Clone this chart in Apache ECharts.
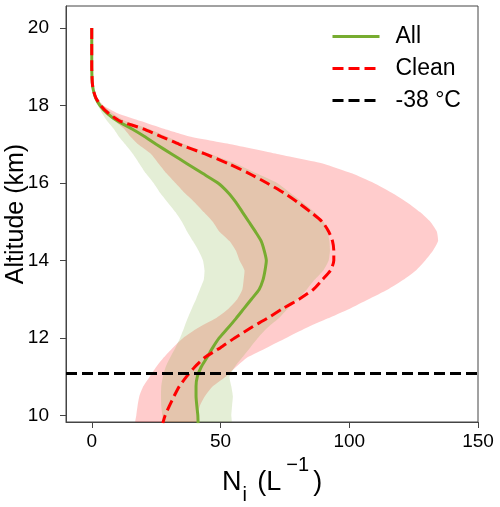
<!DOCTYPE html>
<html>
<head>
<meta charset="utf-8">
<script src="https://cdn.jsdelivr.net/npm/echarts@6/dist/echarts.min.js"></script>
<style>
html,body{margin:0;padding:0;background:#fff;}
#chart{width:500px;height:507px;}
</style>
</head>
<body>
<div id="chart"></div>
<script>
// Altitude levels (km)
const altitude = [20, 19, 18.6, 18.4, 18.2, 18.0, 17.8, 17.6, 17.4, 17.2, 17.0, 16.75, 16.5, 16.25, 16.0, 15.75, 15.5, 15.25, 15.0, 14.75, 14.5, 14.25, 14.0, 13.75, 13.5, 13.25, 13.0, 12.75, 12.5, 12.25, 12.0, 11.75, 11.5, 11.25, 11.0, 10.75, 10.5, 10.25, 10.0, 9.8];
// "All" mean Ni (L^-1)
const allMean = [0, 0, 0.2, 0.6, 1.5, 3.2, 6, 10, 15.5, 20.5, 25, 31, 37, 43, 49, 53, 56, 58.5, 61, 63.5, 65.8, 67, 67.8, 67.3, 66.5, 65, 62, 59, 56, 52.8, 49.5, 47, 44.8, 42.5, 41, 40.5, 40.5, 40.8, 41.2, 41.3];
// "All" band
const allLow = [0, 0, 0.1, 0.3, 1, 2.5, 4, 6, 8.5, 10.5, 13, 16, 18.5, 21, 24, 26.5, 29.5, 32.5, 35, 37, 39.3, 41.5, 43.2, 43.8, 43.5, 42, 40.5, 38.8, 37.2, 35.8, 34.3, 32.5, 30.5, 28.7, 27.6, 27, 26.9, 27, 27.4, 27.6];
const allHigh = [0, 0, 0.3, 0.8, 1.8, 4.5, 8, 13, 22, 29, 36, 46, 56, 64, 72, 77, 82, 86.5, 90, 91.5, 92.3, 92.5, 92, 90, 86.5, 83.5, 80, 76, 72.5, 68, 64.5, 61.5, 58.5, 55.5, 53.5, 54.2, 54.8, 54.5, 54.2, 54.2];
// "Clean" mean Ni
const cleanMean = [0, 0, 0.2, 0.6, 1.6, 3.5, 6.5, 11, 20, 27, 34, 44, 53, 61, 68, 74.5, 80, 85, 89.5, 92, 93.5, 94, 94, 92.8, 89.5, 86, 80.5, 74, 68, 61.5, 55.5, 50, 44, 40, 36.8, 34, 32, 30.2, 28.5, 27.6];
// "Clean" band
const cleanLow = [0, 0, 0.1, 0.3, 1.1, 3, 5.5, 9, 12.5, 15, 18, 23, 26, 29, 32.5, 36, 40, 43.5, 47, 49.5, 53.5, 56, 57.4, 59.3, 59, 58.5, 56.5, 53, 48, 41, 35.5, 31.5, 28, 25, 22.5, 20, 18.5, 17.8, 17.3, 17];
const cleanHigh = [0, 0, 0.3, 0.8, 2, 4.5, 10, 19, 28, 38, 54, 72, 90, 101, 109.5, 116.5, 122.5, 127.5, 131.5, 134, 134.5, 132.5, 129.5, 126, 121, 115, 107.5, 100, 91.5, 83, 75.5, 68, 60.5, 56, 52, 47, 44, 42, 41, 40.6];
// -38 °C level (km)
const isothermAlt = 11.1;
// Tick labels
const xTicks = [0, 50, 100, 150];
const yTicks = [10, 12, 14, 16, 18, 20];
const seriesNames = ['All', 'Clean', '-38 °C'];

const FONT = 'Liberation Sans, Arial, sans-serif';
const GREEN = '#77AC30';
const RED = '#FF0000';

function band(name, low, high, fill, z) {
  return {
    type: 'custom',
    name: name,
    clip: true,
    silent: true,
    z: z,
    data: altitude.map((a, i) => [low[i], high[i], a]),
    encode: { x: [0, 1], y: 2 },
    renderItem: function (params, api) {
      if (params.dataIndex !== 0) return null;
      const pts = [];
      for (let i = 0; i < altitude.length; i++) pts.push(api.coord([low[i], altitude[i]]));
      for (let i = altitude.length - 1; i >= 0; i--) pts.push(api.coord([high[i], altitude[i]]));
      return { type: 'polygon', shape: { points: pts, smooth: 0.15 }, style: { fill: fill } };
    }
  };
}

const chart = echarts.init(document.getElementById('chart'), null, { renderer: 'canvas' });
chart.setOption({
  animation: false,
  backgroundColor: '#fff',
  grid: { left: 66, right: 22, top: 6, bottom: 85, containLabel: false, outerBoundsMode: 'none', show: true, borderColor: '#444', borderWidth: 1, backgroundColor: 'transparent' },
  legend: {
    data: seriesNames,
    orient: 'vertical',
    left: 331,
    top: 25,
    padding: 0,
    itemWidth: 47,
    itemHeight: 14,
    itemGap: 9,
    itemStyle: { opacity: 0 },
    lineStyle: { width: 3 },
    textStyle: { fontFamily: FONT, fontSize: 23, color: '#000', lineHeight: 23, padding: [0, 0, 0, 11] }
  },
  xAxis: {
    type: 'value',
    min: -10,
    max: 150,
    name: '{n|N}{sub|i}{n| (L}{sup|−1}{n|)}',
    nameLocation: 'middle',
    nameGap: 33,
    nameMoveOverlap: false,
    nameTextStyle: {
      fontFamily: FONT, color: '#000',
      rich: {
        n: { fontFamily: FONT, fontSize: 27, color: '#000', lineHeight: 55, verticalAlign: 'middle' },
        sub: { fontFamily: FONT, fontSize: 20, color: '#000', lineHeight: 16, padding: [0, 3, 5, 1], verticalAlign: 'bottom' },
        sup: { fontFamily: FONT, fontSize: 20, color: '#000', lineHeight: 10, padding: [0, 4, 0, 5], verticalAlign: 'top' }
      }
    },
    splitLine: { show: false },
    axisLine: { show: true, onZero: false, lineStyle: { color: '#444', width: 1 } },
    axisTick: { show: true, length: 6, lineStyle: { color: '#444' }, customValues: xTicks },
    axisLabel: { fontFamily: FONT, fontSize: 19, color: '#000', margin: 10, customValues: xTicks }
  },
  yAxis: {
    type: 'value',
    min: 9.83,
    max: 20.57,
    name: 'Altitude (km)',
    nameLocation: 'middle',
    nameGap: 37,
    nameMoveOverlap: false,
    nameTextStyle: { fontFamily: FONT, fontSize: 25, color: '#000' },
    splitLine: { show: false },
    axisLine: { show: true, onZero: false, lineStyle: { color: '#444', width: 1 } },
    axisTick: { show: true, length: 6, lineStyle: { color: '#444' }, customValues: yTicks },
    axisLabel: { fontFamily: FONT, fontSize: 19, color: '#000', margin: 17, customValues: yTicks }
  },
  series: [
    band('Clean band', cleanLow, cleanHigh, 'rgba(255,0,0,0.2)', 1),
    band('All band', allLow, allHigh, 'rgba(119,172,48,0.2)', 2),
    {
      type: 'line', name: 'All', z: 3,
      data: altitude.map((a, i) => [allMean[i], a]),
      showSymbol: false, symbol: 'none', smooth: 0.2,
      lineStyle: { color: GREEN, width: 3 },
      itemStyle: { color: GREEN }
    },
    {
      type: 'line', name: 'Clean', z: 4,
      data: altitude.map((a, i) => [cleanMean[i], a]),
      showSymbol: false, symbol: 'none', smooth: 0.2,
      lineStyle: { color: RED, width: 3, type: [11, 5] },
      itemStyle: { color: RED }
    },
    {
      type: 'line', name: '-38 °C', z: 5,
      data: [],
      showSymbol: false, symbol: 'none',
      lineStyle: { color: '#000', width: 3, type: [11, 5] },
      itemStyle: { color: '#000' },
      markLine: {
        silent: true, symbol: ['none', 'none'], animation: false,
        label: { show: false },
        lineStyle: { color: '#000', width: 3, type: [11, 5] },
        data: [{ yAxis: isothermAlt }]
      }
    }
  ]
});
</script>
</body>
</html>
